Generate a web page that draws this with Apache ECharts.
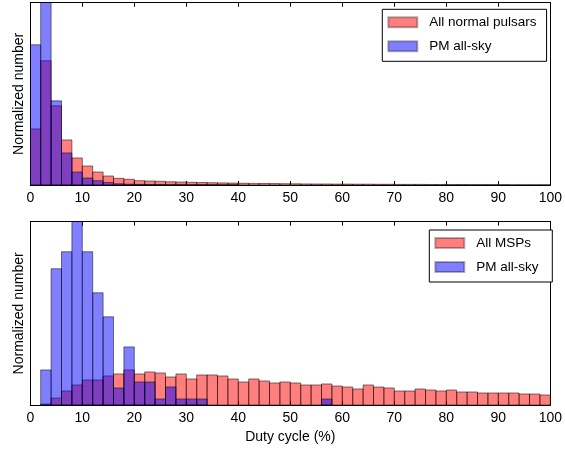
<!DOCTYPE html>
<html>
<head>
<meta charset="utf-8">
<script src="https://cdn.jsdelivr.net/npm/echarts@6/dist/echarts.min.js"></script>
<style>
html,body{margin:0;padding:0;background:#fff;}
#chart{width:565px;height:451px;}
</style>
</head>
<body>
<div id="chart"></div>
<script>
// Bin left edges (duty cycle %, bin width 2)
const binLefts = [0,2,4,6,8,10,12,14,16,18,20,22,24,26,28,30,32,34,36,38,40,42,44,46,48,
                  50,52,54,56,58,60,62,64,66,68,70,72,74,76,78,80,82,84,86,88,90,92,94,96,98];
const BIN_WIDTH = 2;
const xTicks = [0,10,20,30,40,50,60,70,80,90,100];

// Top panel: normalized counts (arbitrary units)
const normalPulsars = [56,124,79,45,27,19,13,9,6.7,5.7,4.3,4,3.7,3.2,3,2.7,2.5,2.3,2.1,1.9,
                       1.7,1.6,1.5,1.4,1.3,1.2,1.1,1.0,1.0,0.9,0.9,0.8,0.8,0.7,0.7,0.6,0.6,0.6,0.5,0.5,
                       0.5,0.5,0.4,0.4,0.4,0.4,0.3,0.3,0.3,0.3];
const pmAllSkyTop = [140,230,84,32,13,7,4.3,2.5,1.2,0.8,0.6,0.5,0.4,0.3,0.3,0.2,0.2,0.2,0.1,0.1,
                     0,0,0,0,0,0,0,0,0,0,0,0,0,0,0,0,0,0,0,0,0,0,0,0,0,0,0,0,0,0];

// Bottom panel
const allMSPs = [0,1,7,14,20,25,25,29,31,35,31,33,32,28,31,26,30,30,29,26,
                 23,26,24,22,23,22,20,20,21,19,18,16,20,18,17,14,14,16,15,14,
                 15,13,13,12,12,12,12,11,11,10];
const pmAllSkyBottom = [0,35,136,153,185,153,112,88,17,58,23,23,6,18,6,6,6,0,0,0,
                        0,0,0,0,0,0,0,0,6,0,0,0,0,0,0,0,0,0,0,0,
                        0,0,0,0,0,0,0,0,0,0];

const RED = 'rgba(255,0,0,0.5)';
const BLUE = 'rgba(0,0,255,0.5)';
const EDGE = 'rgba(0,0,0,0.5)';
const FONT = 'Liberation Sans';

function pairs(vals){ return binLefts.map((b,i)=>[b, vals[i]]); }

function renderBar(params, api){
  const x0 = api.value(0), v = api.value(1);
  if (!(v > 0)) return null;
  const p0 = api.coord([x0, 0]);
  const p1 = api.coord([x0 + BIN_WIDTH, v]);
  return {
    type:'rect',
    shape:{x:p0[0], y:p1[1], width:p1[0]-p0[0], height:p0[1]-p1[1]},
    style: api.style()
  };
}

function histSeries(name, vals, color, gi){
  return {
    type:'custom', name:name, xAxisIndex: gi*2, yAxisIndex: gi*2,
    renderItem: renderBar, clip:true,
    itemStyle:{color:color, borderColor:EDGE, borderWidth:1},
    encode:{x:0, y:1},
    data: pairs(vals)
  };
}

const gridsPos = [{top:2.7, height:182.3, ymax:182}, {top:221.7, height:183.3, ymax:183}];

function xAxes(gi, showName){
  return [{
    gridIndex:gi, type:'value', min:0, max:100, interval:10, position:'bottom',
    axisLine:{show:true, onZero:false, lineStyle:{color:'#000', width:1}},
    axisTick:{show:true, inside:true, length:4, lineStyle:{color:'#000', width:1}},
    axisLabel:{show:true, margin:6, color:'#000', fontSize:14, fontFamily:FONT,
               formatter: v => xTicks.includes(v) ? String(v) : ''},
    splitLine:{show:false},
    name: showName ? 'Duty cycle (%)' : '', nameLocation:'middle', nameGap:25,
    nameTextStyle:{color:'#000', fontSize:14, fontFamily:FONT}
  },{
    gridIndex:gi, type:'value', min:0, max:100, interval:10, position:'top',
    axisLine:{show:true, onZero:false, lineStyle:{color:'#000', width:1}},
    axisTick:{show:true, inside:true, length:4, lineStyle:{color:'#000', width:1}},
    axisLabel:{show:false}, splitLine:{show:false}
  }];
}
function yAxes(gi){
  return [{
    gridIndex:gi, type:'value', min:0, max:gridsPos[gi].ymax, position:'left',
    axisLine:{show:true, onZero:false, lineStyle:{color:'#000', width:1}},
    axisTick:{show:false}, axisLabel:{show:false}, splitLine:{show:false},
    name:'Normalized number', nameLocation:'middle', nameGap:4, nameRotate:90,
    nameTextStyle:{color:'#000', fontSize:14, fontFamily:FONT}
  },{
    gridIndex:gi, type:'value', min:0, max:gridsPos[gi].ymax, position:'right',
    axisLine:{show:true, onZero:false, lineStyle:{color:'#000', width:1}},
    axisTick:{show:false}, axisLabel:{show:false}, splitLine:{show:false}
  }];
}

function legend(left, top, names){
  return {
    orient:'vertical', left:left, top:top, data:names,
    icon:'rect', itemWidth:29, itemHeight:10, itemGap:10,
    padding:[6,10,8,5],
    borderColor:'#000', borderWidth:1, borderRadius:0, backgroundColor:'#fff',
    itemStyle:{borderColor:'rgba(0,0,0,0.3)'},
    textStyle:{color:'#000', fontSize:13.5, fontFamily:FONT, lineHeight:10, padding:[0,0,0,7]},
    selectedMode:false
  };
}

const chart = echarts.init(document.getElementById('chart'), null, {renderer:'canvas'});
chart.setOption({
  animation:false,
  backgroundColor:'#fff',
  grid: gridsPos.map(g => ({left:30.3, width:520.2, top:g.top, height:g.height, containLabel:false})),
  xAxis: [...xAxes(0,false), ...xAxes(1,true)],
  yAxis: [...yAxes(0), ...yAxes(1)],
  legend: [
    legend(382.3, 9.3, ['All normal pulsars','PM all-sky']),
    legend(429.3, 230, ['All MSPs','PM all-sky '])
  ],
  series: [
    histSeries('All normal pulsars', normalPulsars, RED, 0),
    histSeries('PM all-sky', pmAllSkyTop, BLUE, 0),
    histSeries('All MSPs', allMSPs, RED, 1),
    histSeries('PM all-sky ', pmAllSkyBottom, BLUE, 1)
  ]
});
</script>
</body>
</html>
